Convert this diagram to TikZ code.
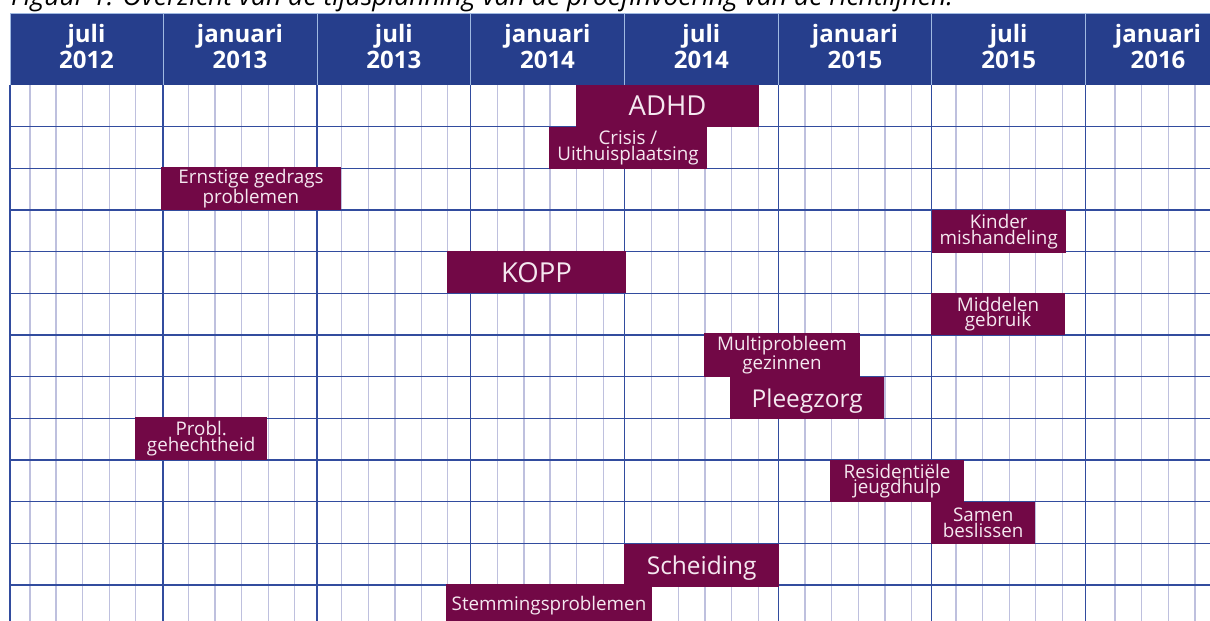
\documentclass[tikz,border=0pt]{standalone}
\usepackage{fontspec}
\setmainfont{Open Sans}
\usepackage{tikz}

\definecolor{kopblauw}{RGB}{38,62,140}
\definecolor{kopscheiding}{RGB}{160,185,225}
\definecolor{lijnblauw}{RGB}{50,76,158}
\definecolor{maandlijn}{RGB}{190,192,222}
\definecolor{balkpaars}{RGB}{114,8,70}
\definecolor{balktekst}{RGB}{245,232,240}

\begin{document}
\begin{tikzpicture}[x=1pt,y=-1pt,
  balk/.style={fill=balkpaars,text=balktekst,inner sep=0pt,align=center,font=\fontsize{18.8}{15.5}\selectfont},
  grootbalk/.style={balk,font=\fontsize{27.5}{30}\selectfont,text height=26.2pt,text depth=6.6pt},
  middelbalk/.style={balk,font=\fontsize{24.5}{27}\selectfont,text height=23.4pt,text depth=5.9pt},
  kop/.style={text=white,inner sep=0pt,align=center,font=\fontsize{24}{25.6}\selectfont\bfseries},
  maand/.style={draw=maandlijn,line width=1.4pt},
  jaarlijn/.style={draw=lijnblauw,line width=1.4pt}]
\useasboundingbox (0,0) rectangle (1210,621);

% titel, bovenkant valt buiten beeld
\node[anchor=base west,inner sep=0pt,font=\fontsize{26.5}{28}\selectfont\itshape] (titel) at (11,5.5)
  {Figuur 1. Overzicht van de tijdsplanning van de proefinvoering van de richtlijnen.};

% kop met de halve jaren
\fill[kopblauw] (10,13.3) rectangle (1210,85);
\draw[kopscheiding,line width=1pt] (1210,13.3) -- (10,13.3) -- (10,85);
\foreach \x in {163,317,470.7,624.3,778.3,931.7,1085.7}
  \draw[kopscheiding,line width=1pt] (\x,13.3) -- (\x,85);
\foreach \x/\maand/\jaar in {86.5/juli/2012,240/januari/2013,393.8/juli/2013,547.5/januari/2014,
    701.3/juli/2014,855/januari/2015,1008.7/juli/2015,1158/januari/2016}
  \node[kop] (kop-\maand-\jaar) at (\x,46.4) {\maand\\\jaar};

% raster
\foreach \x in {30,56,82.7,109.3,135.7, 188.7,215,241.7,268.3,294.7,
    341.7,368.3,395,421.7,447.7, 497.3,524,550,576.7,603.3,
    651.7,678.3,705,731.7,758.3, 805,831.7,858.3,885,911.7,
    956,982.7,1009.3,1035.7,1062.3, 1115,1141.7,1168.3,1195}
  \draw[maand] (\x,85) -- (\x,621);
\foreach \r in {1,...,12}
  \draw[jaarlijn] (10,{85+41.667*\r}) -- (1210,{85+41.667*\r});
\foreach \x in {10,163,317,470.7,624.3,778.3,931.7,1085.7}
  \draw[jaarlijn] (\x,85) -- (\x,621);

% balken
\node[grootbalk,minimum width=183,minimum height=42] (adhd) at (667.5,106) {ADHD};
\node[balk,minimum width=158,minimum height=42.3] (crisis) at (628,147.9) {Crisis /\\Uithuisplaatsing};
\node[balk,minimum width=180,minimum height=42.7] (gedrag) at (251,188.7) {Ernstige gedrags\\problemen};
\node[balk,minimum width=134,minimum height=42.7] (kinder) at (998.7,231.4) {Kinder\\mishandeling};
\node[grootbalk,minimum width=179,minimum height=42.3] (kopp) at (536.5,272.2) {KOPP};
\node[balk,minimum width=134,minimum height=41.7] (middelen) at (998,314.2) {Middelen\\gebruik};
\node[balk,minimum width=156,minimum height=44] (multi) at (782,355.3) {Multiprobleem\\gezinnen};
\node[middelbalk,minimum width=154.3,minimum height=42] (pleeg) at (807.2,398.3) {Pleegzorg};
\node[balk,minimum width=132.3,minimum height=43.3] (gehecht) at (201.2,438.4) {Probl.\\gehechtheid};
\node[balk,minimum width=134,minimum height=42.3] (resid) at (897,481.2) {Residentiële\\jeugdhulp};
\node[balk,minimum width=104.3,minimum height=42.6] (samen) at (983.2,523) {Samen\\beslissen};
\node[middelbalk,minimum width=154.7,minimum height=42.7] (scheiding) at (701.7,565.4) {Scheiding};
\node[balk,minimum width=206.6,minimum height=44] (stemming) at (549,606) {Stemmingsproblemen};
\end{tikzpicture}
\end{document}
